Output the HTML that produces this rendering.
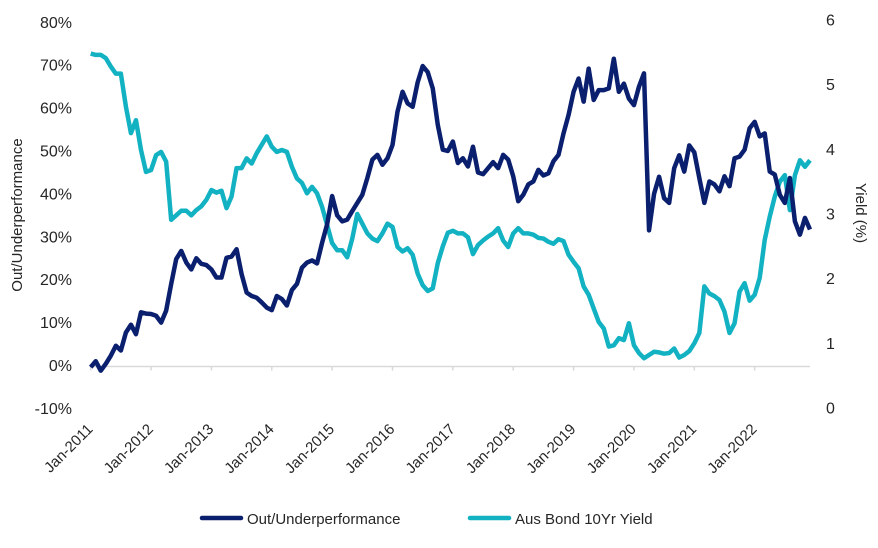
<!DOCTYPE html>
<html><head><meta charset="utf-8"><style>
body{margin:0;background:#fff;}
svg text{font-family:"Liberation Sans",sans-serif;fill:#262626;}
</style></head><body>
<svg id="chart" width="878" height="543" viewBox="0 0 878 543">
<g id="grid"></g>
<g id="series"></g>
<text x="22" y="215" font-size="15" text-anchor="middle" transform="rotate(-90 22 215)">Out/Underperformance</text>
<text x="856" y="213" font-size="15" text-anchor="middle" transform="rotate(90 856 213)">Yield (%)</text>
<g>
<g>
<line x1="202" y1="518" x2="241" y2="518" stroke="#0a1f6e" stroke-width="4.5" stroke-linecap="round"/>
<text x="247" y="524" font-size="15">Out/Underperformance</text></g>
<g>
<line x1="470" y1="518" x2="509" y2="518" stroke="#12b2c2" stroke-width="4.5" stroke-linecap="round"/>
<text x="515" y="524" font-size="15">Aus Bond 10Yr Yield</text></g>
</g>
</svg>
<script>
const perf = [-0.4,1.0,-1.2,0.4,2.3,4.6,3.5,7.7,9.5,7.3,12.4,12.1,12.0,11.6,10.0,12.8,19.0,24.8,26.7,24.0,22.4,25.0,23.7,23.4,22.4,20.5,20.5,25.1,25.4,27.1,21.3,17.0,16.2,15.8,14.7,13.5,12.9,16.2,15.5,14.0,17.6,19.0,22.8,24.0,24.5,23.8,28.6,32.9,39.5,35.0,33.6,34.0,36.0,37.9,39.8,43.7,48.0,49.1,46.8,48.3,51.4,59.2,63.8,61.1,60.3,66.0,69.8,68.4,64.6,56.1,50.3,50.0,52.2,47.2,48.3,46.4,51.0,45.0,44.6,46.0,47.4,46.0,49.1,48.0,44.1,38.3,39.8,42.2,42.9,45.6,44.3,44.8,47.6,49.1,54.1,58.4,63.8,66.9,61.5,69.2,61.9,64.2,64.2,64.6,71.5,63.8,65.7,62.2,60.7,65.0,68.1,31.5,40.0,44.0,39.0,37.9,46.0,49.0,45.2,51.3,49.7,43.7,37.9,42.9,42.2,40.6,44.1,41.8,48.3,48.7,50.3,55.3,56.8,53.4,54.1,45.2,44.5,39.8,37.9,43.7,33.6,30.5,34.4,31.7];
const yieldVals = [5.48,5.46,5.46,5.41,5.28,5.17,5.17,4.66,4.25,4.45,3.99,3.65,3.68,3.91,3.96,3.81,2.91,2.98,3.05,3.05,2.98,3.06,3.12,3.22,3.37,3.33,3.36,3.09,3.27,3.71,3.71,3.86,3.78,3.94,4.07,4.20,4.04,3.96,3.99,3.96,3.73,3.55,3.48,3.32,3.42,3.32,3.11,2.83,2.55,2.44,2.44,2.33,2.62,3.00,2.85,2.70,2.62,2.58,2.70,2.85,2.80,2.49,2.42,2.47,2.37,2.08,1.90,1.81,1.85,2.24,2.50,2.71,2.74,2.70,2.70,2.64,2.38,2.52,2.59,2.65,2.70,2.78,2.59,2.49,2.70,2.78,2.70,2.70,2.68,2.63,2.62,2.57,2.54,2.61,2.58,2.37,2.26,2.16,1.88,1.75,1.54,1.33,1.23,0.95,0.97,1.08,1.05,1.31,0.97,0.85,0.77,0.82,0.87,0.86,0.84,0.85,0.92,0.78,0.82,0.88,1.00,1.16,1.88,1.77,1.73,1.67,1.49,1.16,1.31,1.80,1.93,1.66,1.75,2.01,2.60,2.96,3.27,3.50,3.60,3.06,3.60,3.83,3.73,3.83];
const leftTicks = [-10,0,10,20,30,40,50,60,70,80];
const rightTicks = [0,1,2,3,4,5,6];
const yearLabels = ["Jan-2011","Jan-2012","Jan-2013","Jan-2014","Jan-2015","Jan-2016","Jan-2017","Jan-2018","Jan-2019","Jan-2020","Jan-2021","Jan-2022"];

const NS="http://www.w3.org/2000/svg";
const x0=90.7, monthW=5.03;
const xM = i => x0 + i*monthW;
const yL = v => 365.5 - v*4.29;
const yR = v => 408 - v*64.67;
const grid=document.getElementById('grid'), series=document.getElementById('series');
function mk(tag,attrs,parent){const e=document.createElementNS(NS,tag);for(const k in attrs)e.setAttribute(k,attrs[k]);parent.appendChild(e);return e;}

const ax=mk('line',{x1:x0,y1:yL(0)+1,x2:810,y2:yL(0)+1,stroke:'#d9d9d9','stroke-width':1.5},grid);


leftTicks.forEach(t=>{
  const e=mk('text',{x:72,y:yL(t)+5.5,'font-size':16,'text-anchor':'end'},grid);
  e.textContent=t+'%';
  
  
});
rightTicks.forEach(t=>{
  const e=mk('text',{x:826,y:yR(t)+5.5,'font-size':16,'text-anchor':'start'},grid);
  e.textContent=t;
  
  
});
yearLabels.forEach((lab,k)=>{
  const x=xM(k*12);
  const tk=mk('line',{x1:x,y1:yL(0)+1,x2:x,y2:yL(0)+5,stroke:'#d9d9d9','stroke-width':1.5},grid);
  
  
  const tx=x+3, ty=430;
  const e=mk('text',{x:tx,y:ty,'font-size':15,'text-anchor':'end',transform:`rotate(-45 ${tx} ${ty})`},grid);
  e.textContent=lab;
  
  
});
const py=mk('polyline',{points:yieldVals.map((v,i)=>xM(i)+','+yR(v)).join(' '),fill:'none',stroke:'#12b2c2','stroke-width':4.5,'stroke-linejoin':'round'},series);


const pp=mk('polyline',{points:perf.map((v,i)=>xM(i)+','+yL(v)).join(' '),fill:'none',stroke:'#0a1f6e','stroke-width':4.5,'stroke-linejoin':'round'},series);


</script>
</body></html>
